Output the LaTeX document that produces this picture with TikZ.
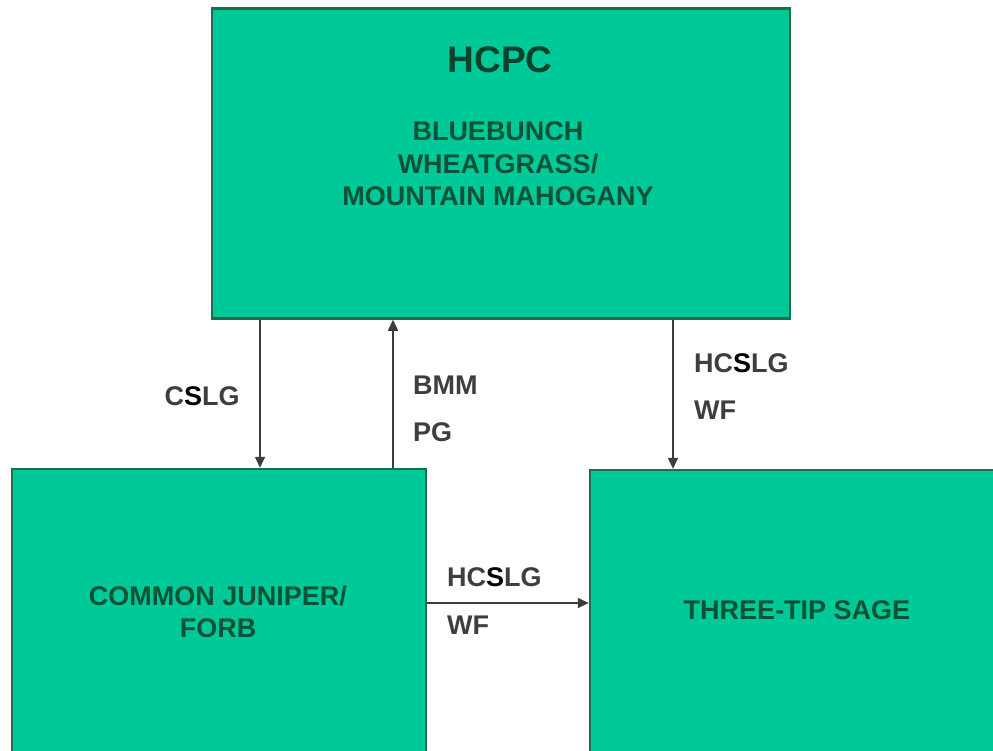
\documentclass[tikz,border=0pt]{standalone}
\usepackage{fontspec}
\setmainfont{Liberation Sans}
\usetikzlibrary{arrows.meta}
\definecolor{boxfill}{RGB}{0,201,153}
\definecolor{boxline}{RGB}{28,110,78}
\definecolor{boxtext}{RGB}{12,82,54}
\definecolor{lbl}{RGB}{62,62,62}
\definecolor{arrowc}{RGB}{60,60,60}
\begin{document}
\begin{tikzpicture}[x=1pt,y=-1pt,
  statebox/.style={draw=boxline, line width=2.5pt, fill=boxfill, inner sep=0pt},
  boxtxt/.style={text=boxtext, font=\bfseries\fontsize{27}{32.5}\selectfont, align=center, inner sep=0pt},
  titletxt/.style={text=boxtext!80!black, font=\bfseries\fontsize{37}{40}\selectfont, inner sep=0pt},
  lbltxt/.style={text=lbl, font=\bfseries\fontsize{27}{30}\selectfont, inner sep=0pt},
  arr/.style={draw=arrowc, line width=1.6pt, -{Triangle[length=11pt,width=10pt]}}]
\useasboundingbox (0,0) rectangle (993,751);
\clip (0,0) rectangle (993,751);
\fill[white] (0,0) rectangle (993,751);
% boxes
\node[statebox, minimum width=578pt, minimum height=310pt] (hcpc) at (501,163.5) {};
\node[statebox, minimum width=414pt, minimum height=311pt] (jun) at (219,624.5) {};
\node[statebox, minimum width=420pt, minimum height=310pt] (sage) at (800,625) {};
% box texts
\node[titletxt] (hcpctitle) at (500,60) {HCPC};
\node[boxtxt] (hcpctext) at (498,164) {BLUEBUNCH\\WHEATGRASS/\\MOUNTAIN MAHOGANY};
\node[boxtxt] (juntext) at (218,612) {COMMON JUNIPER/\\FORB};
\node[boxtxt] (sagetext) at (797,610) {THREE-TIP SAGE};
% connector x positions
\coordinate (xa) at (260,0);
\coordinate (xb) at (393,0);
\coordinate (xc) at (673,0);
\coordinate (yh) at (0,603);
% connectors
\draw[arr] (hcpc.south -| xa) -- (jun.north -| xa);
\draw[arr] (jun.north -| xb) -- (hcpc.south -| xb);
\draw[arr] (hcpc.south -| xc) -- (sage.north -| xc);
\draw[arr] (jun.east |- yh) -- (sage.west |- yh);
% labels
\node[lbltxt] (lcslg) at (202,396) {C\textcolor{black}{S}LG};
\node[lbltxt, anchor=west] (lbmm) at (413,385) {BMM};
\node[lbltxt, anchor=west] (lpg) at (413,432) {PG};
\node[lbltxt, anchor=west] (lhc1) at (694,363) {HC\textcolor{black}{S}LG};
\node[lbltxt, anchor=west] (lwf1) at (694,410) {WF};
\node[lbltxt, anchor=west] (lhc2) at (447,577) {HC\textcolor{black}{S}LG};
\node[lbltxt, anchor=west] (lwf2) at (447,625) {WF};
\end{tikzpicture}
\end{document}
